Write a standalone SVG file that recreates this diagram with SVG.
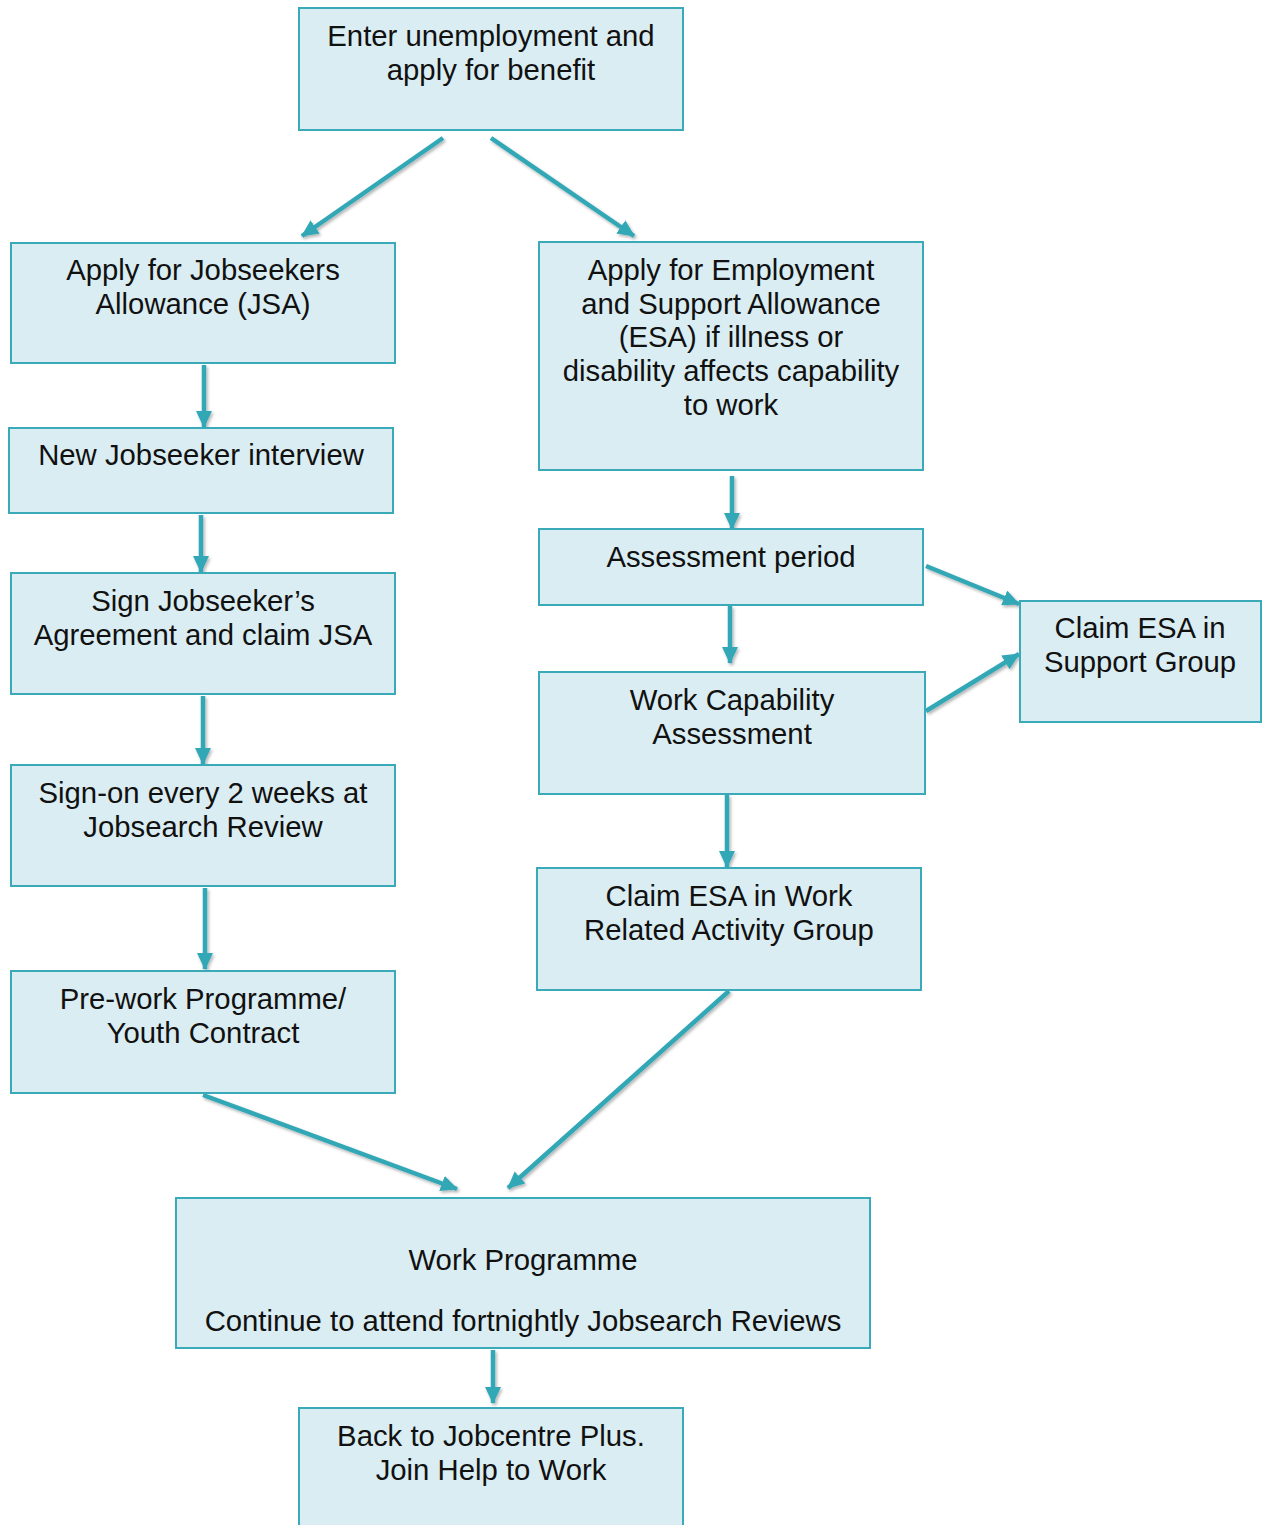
<svg xmlns="http://www.w3.org/2000/svg" width="1267" height="1525" viewBox="0 0 1267 1525">
<style>
.box{fill:#daedf2;stroke:#3aa9b8;stroke-width:2}
.t{font-family:"Liberation Sans",Arial,sans-serif;font-size:29.3px;fill:#111;text-anchor:middle}
.c{stroke:#32a7b6;stroke-width:4.5;fill:none;marker-end:url(#ah)}
</style>
<defs>
<marker id="ah" markerUnits="userSpaceOnUse" markerWidth="18" markerHeight="16" refX="16" refY="8" orient="auto">
<path d="M0,0 L17,8 L0,16 z" fill="#32a7b6"/>
</marker>
<filter id="sh" x="-20%" y="-20%" width="140%" height="140%">
<feDropShadow dx="1.5" dy="2" stdDeviation="1.5" flood-color="#000" flood-opacity="0.3"/>
</filter>
</defs>
<g id="connectors" filter="url(#sh)">
<line class="c" x1="443" y1="138" x2="302" y2="236"/>
<line class="c" x1="491" y1="138" x2="634" y2="236"/>
<line class="c" x1="204" y1="365" x2="204" y2="427"/>
<line class="c" x1="201" y1="515" x2="201" y2="572"/>
<line class="c" x1="203" y1="696" x2="203" y2="764"/>
<line class="c" x1="205" y1="888" x2="205" y2="969"/>
<line class="c" x1="203" y1="1095" x2="457" y2="1189"/>
<line class="c" x1="729" y1="991" x2="508" y2="1188"/>
<line class="c" x1="732" y1="476" x2="732" y2="529"/>
<line class="c" x1="730" y1="606" x2="730" y2="663"/>
<line class="c" x1="727" y1="795" x2="727" y2="867"/>
<line class="c" x1="926" y1="566" x2="1019" y2="604"/>
<line class="c" x1="926" y1="711" x2="1019" y2="654"/>
<line class="c" x1="493" y1="1350" x2="493" y2="1403"/>
</g>
<g id="n1"><rect class="box" x="299" y="8" width="384" height="122"/>
<text class="t" x="491" y="46">Enter unemployment and</text><text class="t" x="491" y="80">apply for benefit</text></g>
<g id="n2"><rect class="box" x="11" y="243" width="384" height="120"/>
<text class="t" x="203" y="280">Apply for Jobseekers</text><text class="t" x="203" y="314">Allowance (JSA)</text></g>
<g id="n3"><rect class="box" x="9" y="428" width="384" height="85"/>
<text class="t" x="201" y="465">New Jobseeker interview</text></g>
<g id="n4"><rect class="box" x="11" y="573" width="384" height="121"/>
<text class="t" x="203" y="611">Sign Jobseeker’s</text><text class="t" x="203" y="645">Agreement and claim JSA</text></g>
<g id="n5"><rect class="box" x="11" y="765" width="384" height="121"/>
<text class="t" x="203" y="803">Sign-on every 2 weeks at</text><text class="t" x="203" y="837">Jobsearch Review</text></g>
<g id="n6"><rect class="box" x="11" y="971" width="384" height="122"/>
<text class="t" x="203" y="1009">Pre-work Programme/</text><text class="t" x="203" y="1043">Youth Contract</text></g>
<g id="n7"><rect class="box" x="539" y="242" width="384" height="228"/>
<text class="t" x="731" y="280">Apply for Employment</text><text class="t" x="731" y="314">and Support Allowance</text><text class="t" x="731" y="347">(ESA) if illness or</text><text class="t" x="731" y="381">disability affects capability</text><text class="t" x="731" y="415">to work</text></g>
<g id="n8"><rect class="box" x="539" y="529" width="384" height="76"/>
<text class="t" x="731" y="567">Assessment period</text></g>
<g id="n9"><rect class="box" x="539" y="672" width="386" height="122"/>
<text class="t" x="732" y="710">Work Capability</text><text class="t" x="732" y="744">Assessment</text></g>
<g id="n10"><rect class="box" x="1020" y="601" width="241" height="121"/>
<text class="t" x="1140" y="638">Claim ESA in</text><text class="t" x="1140" y="672">Support Group</text></g>
<g id="n11"><rect class="box" x="537" y="868" width="384" height="122"/>
<text class="t" x="729" y="906">Claim ESA in Work</text><text class="t" x="729" y="940">Related Activity Group</text></g>
<g id="n12"><rect class="box" x="176" y="1198" width="694" height="150"/>
<text class="t" x="523" y="1270">Work Programme</text><text class="t" x="523" y="1331">Continue to attend fortnightly Jobsearch Reviews</text></g>
<g id="n13"><rect class="box" x="299" y="1408" width="384" height="120"/>
<text class="t" x="491" y="1446">Back to Jobcentre Plus.</text><text class="t" x="491" y="1480">Join Help to Work</text></g>
</svg>
